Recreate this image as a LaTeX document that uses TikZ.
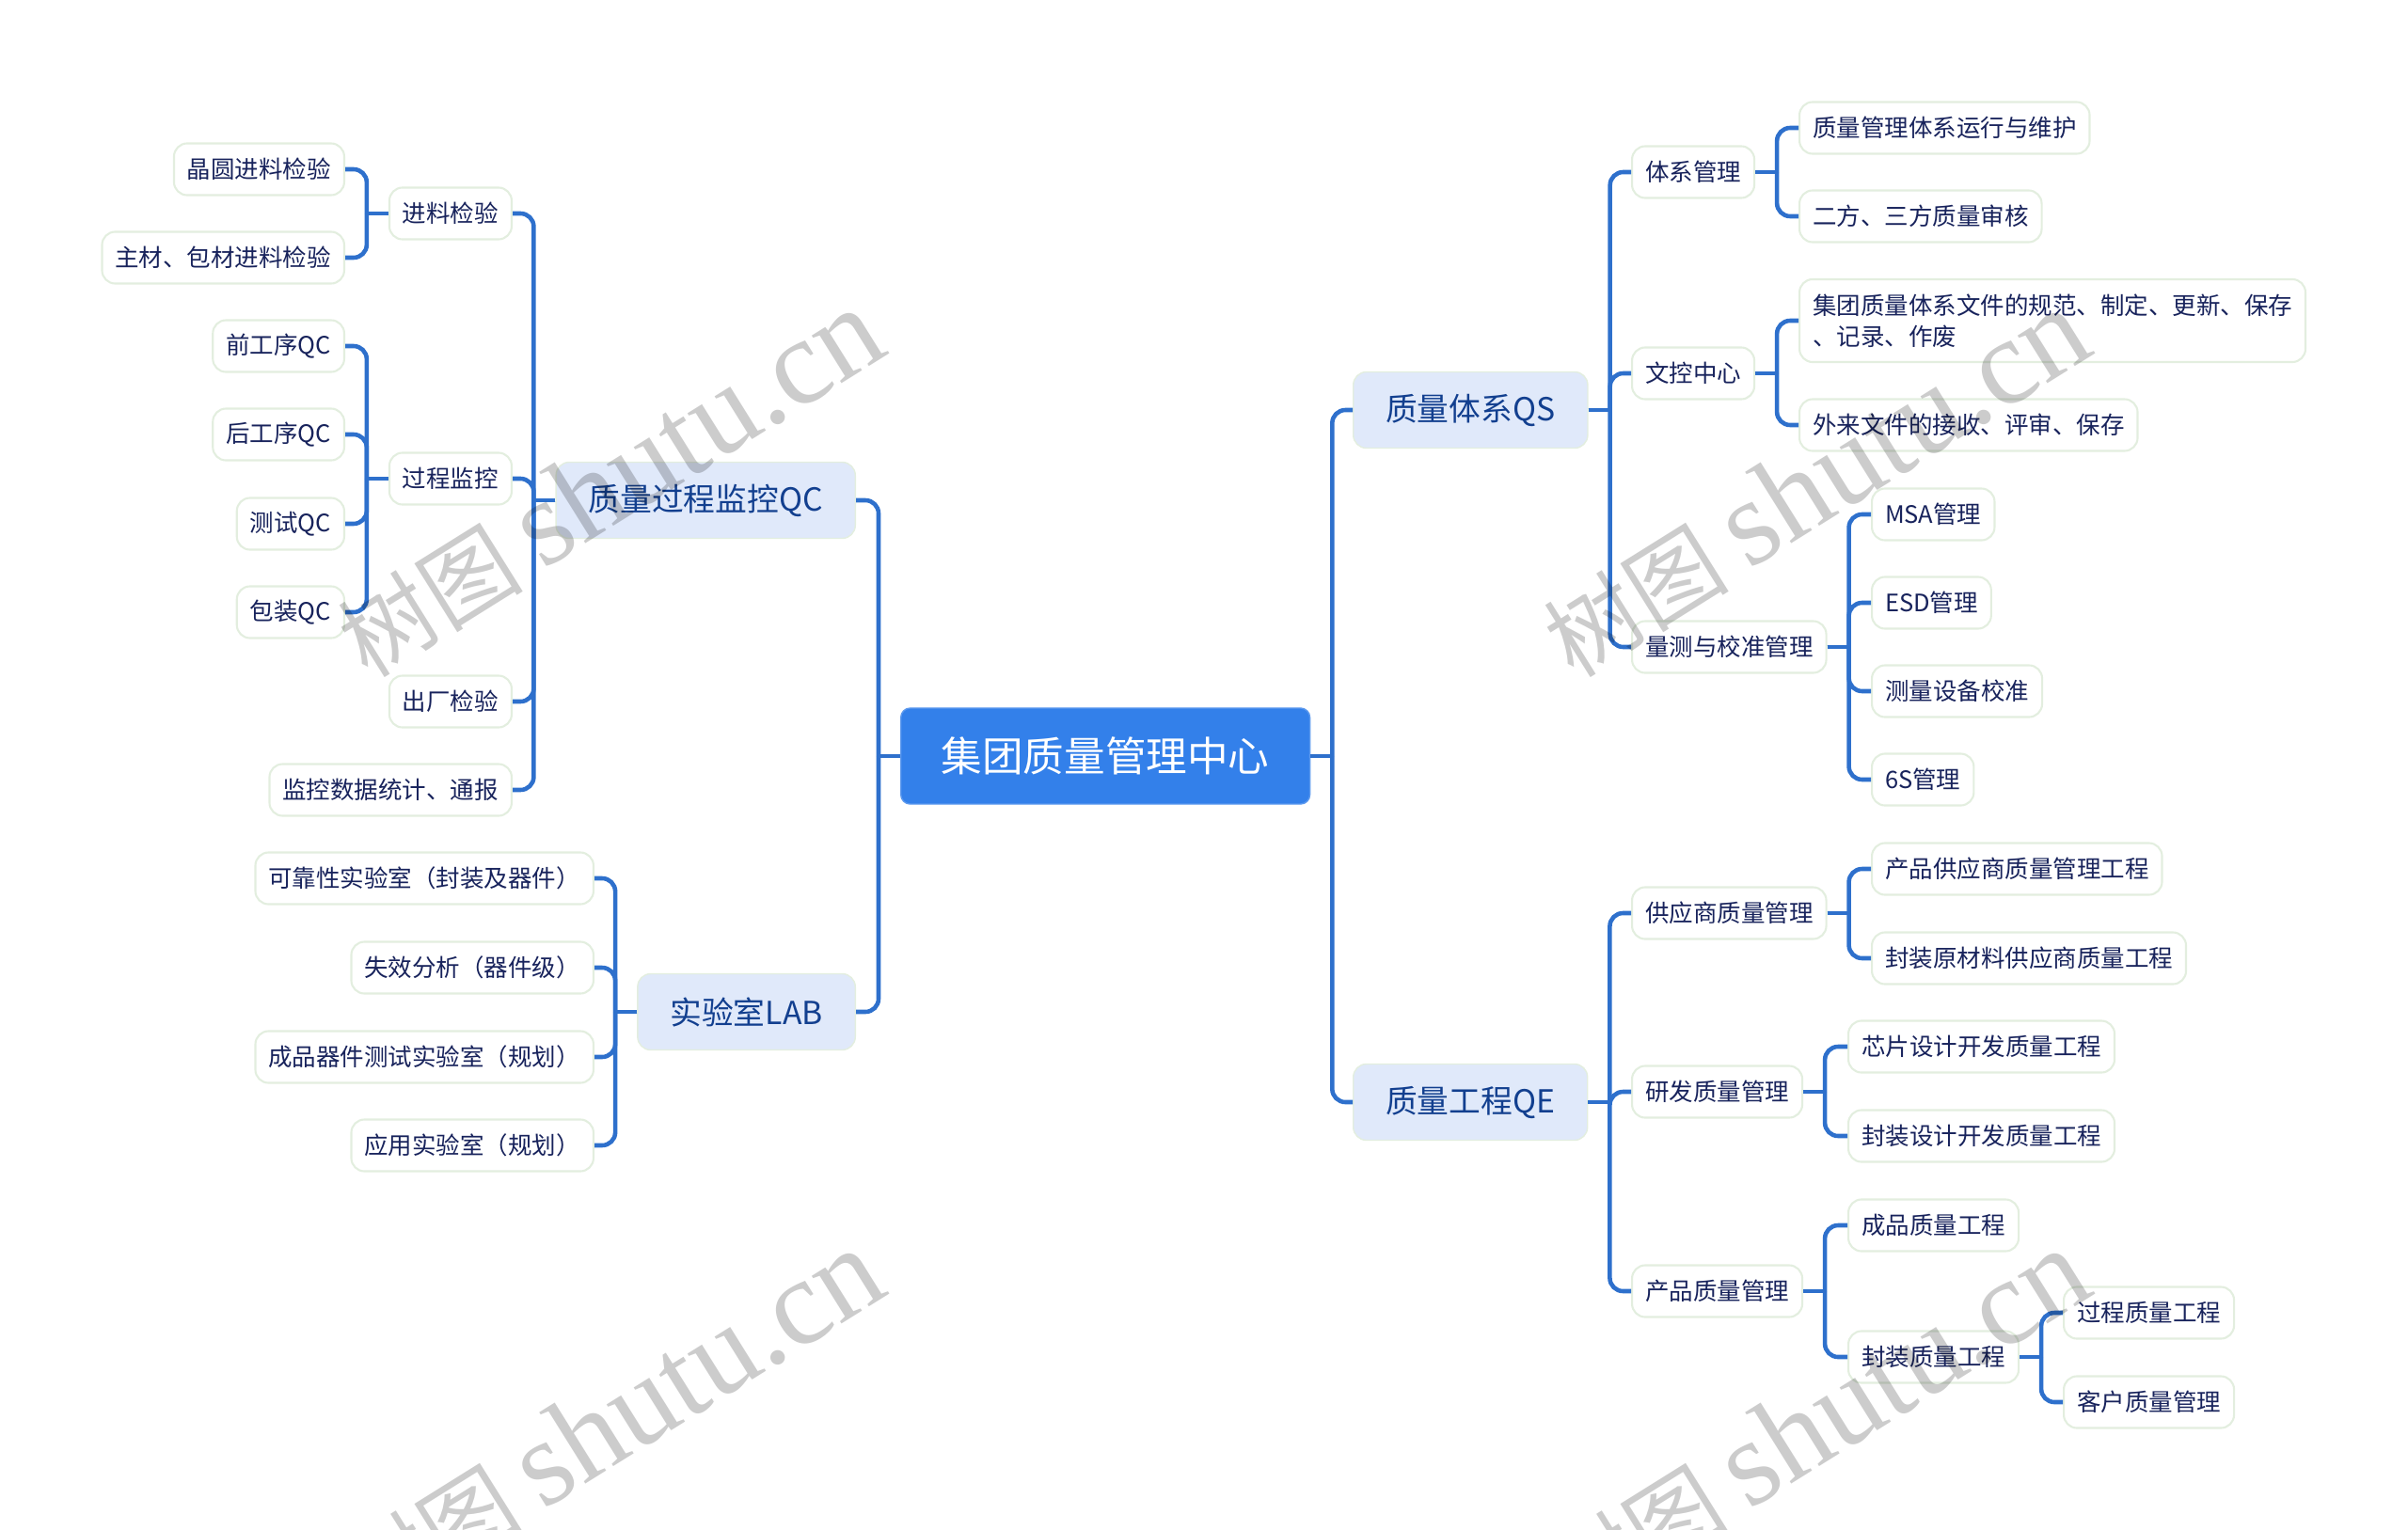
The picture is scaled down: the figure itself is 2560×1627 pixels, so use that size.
\documentclass[tikz,border=0pt]{standalone}
\usepackage{fontspec}
\setmainfont{Noto Sans CJK SC}
\newfontfamily\markfont{Liberation Serif}
\definecolor{linkblue}{HTML}{2E70CC}
\definecolor{rootblue}{HTML}{3380EA}
\definecolor{topicfill}{HTML}{E0E9FA}
\definecolor{edgegreen}{HTML}{E3EEDF}
\definecolor{topicink}{HTML}{123F8F}
\definecolor{leafink}{HTML}{18235C}
\tikzset{
  root/.style={draw=rootblue!80!white,fill=rootblue,text=white,rounded corners=.1cm,inner xsep=.43cm,
    inner ysep=0pt,minimum height=1.02cm,font=\fontsize{12.4}{15}\selectfont},
  topic/.style={draw=edgegreen,fill=topicfill,text=topicink,rounded corners=.14cm,inner xsep=.345cm,
    inner ysep=0pt,minimum height=.81cm,font=\fontsize{9.6}{13}\selectfont},
  leaf/.style={draw=edgegreen,line width=.6pt,fill=white,text=leafink,rounded corners=.14cm,inner xsep=.14cm,
    inner ysep=0pt,minimum height=.55cm,align=left,font=\fontsize{7.25}{9.4}\selectfont},
  link/.style={draw=linkblue,line width=1.3pt},
  branch/.style={link,rounded corners=.14cm},
  wmark/.style={text=black,opacity=.2,rotate=32,font=\fontsize{28}{40}\selectfont}
}
\begin{document}
\begin{tikzpicture}[x=.01cm,y=-.01cm]
\clip (0,0) rectangle (2560,1627);

% Centre
\node[root,anchor=west] (root) at (957,804) {集团质量管理中心};

% Right side
\node[topic,anchor=west] (qs) at (1438,436) {质量体系QS};
\node[topic,anchor=west] (qe) at (1438,1172) {质量工程QE};

\node[leaf,anchor=west] (sys) at (1734,183) {体系管理};
\node[leaf,anchor=west] (doc) at (1734,397) {文控中心};
\node[leaf,anchor=west] (cal) at (1734,688) {量测与校准管理};
\node[leaf,anchor=west] (sup) at (1734,971) {供应商质量管理};
\node[leaf,anchor=west] (rnd) at (1734,1161) {研发质量管理};
\node[leaf,anchor=west] (prd) at (1734,1373) {产品质量管理};

\node[leaf,anchor=west] (sysa) at (1912,136) {质量管理体系运行与维护};
\node[leaf,anchor=west] (sysb) at (1912,230) {二方、三方质量审核};
\node[leaf,anchor=west,minimum height=.88cm] (doca) at (1912,341) {集团质量体系文件的规范、制定、更新、保存\\、记录、作废};
\node[leaf,anchor=west] (docb) at (1912,452) {外来文件的接收、评审、保存};
\node[leaf,anchor=west] (cala) at (1989,547) {MSA管理};
\node[leaf,anchor=west] (calb) at (1989,641) {ESD管理};
\node[leaf,anchor=west] (calc) at (1989,735) {测量设备校准};
\node[leaf,anchor=west] (cald) at (1989,829) {6S管理};
\node[leaf,anchor=west] (supa) at (1989,924) {产品供应商质量管理工程};
\node[leaf,anchor=west] (supb) at (1989,1019) {封装原材料供应商质量工程};
\node[leaf,anchor=west] (rnda) at (1964,1113) {芯片设计开发质量工程};
\node[leaf,anchor=west] (rndb) at (1964,1208) {封装设计开发质量工程};
\node[leaf,anchor=west] (prda) at (1964,1303) {成品质量工程};
\node[leaf,anchor=west] (prdb) at (1964,1443) {封装质量工程};
\node[leaf,anchor=west] (pkga) at (2193,1396) {过程质量工程};
\node[leaf,anchor=west] (pkgb) at (2193,1491) {客户质量管理};

% Left side
\node[topic,anchor=east] (qc) at (910,532) {质量过程监控QC};
\node[topic,anchor=east] (lab) at (910,1076) {实验室LAB};

\node[leaf,anchor=east] (inc) at (545,227) {进料检验};
\node[leaf,anchor=east] (pro) at (545,509) {过程监控};
\node[leaf,anchor=east] (out) at (545,746) {出厂检验};
\node[leaf,anchor=east] (rep) at (545,840) {监控数据统计、通报};

\node[leaf,anchor=east] (inca) at (367,180) {晶圆进料检验};
\node[leaf,anchor=east] (incb) at (367,274) {主材、包材进料检验};
\node[leaf,anchor=east] (proa) at (367,368) {前工序QC};
\node[leaf,anchor=east] (prob) at (367,462) {后工序QC};
\node[leaf,anchor=east] (proc) at (367,557) {测试QC};
\node[leaf,anchor=east] (prod) at (367,651) {包装QC};

\node[leaf,anchor=east] (laba) at (632,934) {可靠性实验室（封装及器件）};
\node[leaf,anchor=east] (labb) at (632,1029) {失效分析（器件级）};
\node[leaf,anchor=east] (labc) at (632,1124) {成品器件测试实验室（规划）};
\node[leaf,anchor=east] (labd) at (632,1218) {应用实验室（规划）};

% Connectors, stub first and then the rounded branch
\foreach \from/\to in {root/qs,root/qe,qs/sys,qs/doc,qs/cal,qe/sup,qe/rnd,qe/prd,
  sys/sysa,sys/sysb,doc/doca,doc/docb,cal/cala,cal/calb,cal/calc,cal/cald,
  sup/supa,sup/supb,rnd/rnda,rnd/rndb,prd/prda,prd/prdb,prdb/pkga,prdb/pkgb}{
  \draw[link] (\from.east) -- ++(23,0);
  \draw[branch] (\from.east) ++(23,0) |- (\to.west);
}
\foreach \from/\to in {root/qc,root/lab,qc/inc,qc/pro,qc/out,qc/rep,
  inc/inca,inc/incb,pro/proa,pro/prob,pro/proc,pro/prod,
  lab/laba,lab/labb,lab/labc,lab/labd}{
  \draw[link] (\from.west) -- ++(-23,0);
  \draw[branch] (\from.west) ++(-23,0) |- (\to.east);
}

% Watermarks
\foreach \mx/\my in {648/514,1930/514,648/1514,1930/1514}
  \node[wmark] (wm\mx\my) at (\mx,\my) {树图 {\markfont\fontsize{37}{40}\selectfont shutu.cn}};
\end{tikzpicture}
\end{document}
